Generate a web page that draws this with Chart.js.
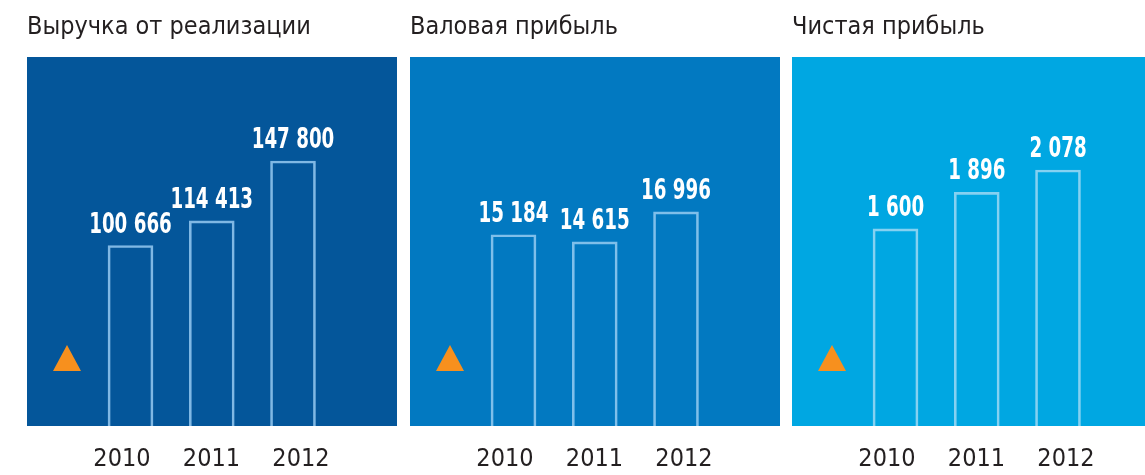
<!DOCTYPE html>
<html lang="ru">
<head>
<meta charset="utf-8">
<title>Финансовые показатели</title>
<script src="https://cdn.jsdelivr.net/npm/chart.js@4/dist/chart.umd.min.js"></script>
<style>
  html, body { margin: 0; padding: 0; background: #fff; overflow: hidden; }
  #wrap { position: relative; width: 1145px; height: 475px; overflow: hidden; }
  #wrap canvas { position: absolute; top: 0; }
</style>
</head>
<body>
<div id="wrap">
  <canvas id="c1" width="370" height="493" style="left:27px"></canvas>
  <canvas id="c2" width="370" height="493" style="left:410px"></canvas>
  <canvas id="c3" width="370" height="493" style="left:792px"></canvas>
</div>
<script>
const years = ['2010', '2011', '2012'];
const revenue = [100666, 114413, 147800];
const grossProfit = [15184, 14615, 16996];
const netProfit = [1600, 1896, 2078];
const titles = ['Выручка от реализации', 'Валовая прибыль', 'Чистая прибыль'];

const FONT = '"Liberation Sans Narrow", "DejaVu Sans Condensed", "Roboto", sans-serif';

// 100666 -> "100 666"
const fmt = (v) => String(v).replace(/\B(?=(\d{3})+(?!\d))/g, ' ');

// panel background + orange marker, values above bars
const panelPlugin = {
  id: 'panel',
  beforeDraw(chart, args, opts) {
    const { ctx, chartArea: a } = chart;
    ctx.save();
    ctx.fillStyle = opts.bg;
    ctx.fillRect(a.left, a.top, a.right - a.left, a.bottom - a.top);
    ctx.fillStyle = '#f7901e';
    ctx.beginPath();
    ctx.moveTo(a.left + 26, a.bottom - 55);
    ctx.lineTo(a.left + 54, a.bottom - 55);
    ctx.lineTo(a.left + 40, a.bottom - 81);
    ctx.closePath();
    ctx.fill();
    ctx.restore();
  },
  afterDatasetsDraw(chart) {
    const { ctx } = chart;
    const values = chart.data.datasets[0].data;
    ctx.save();
    ctx.fillStyle = '#ffffff';
    ctx.font = 'bold 29px ' + FONT;
    ctx.textAlign = 'center';
    ctx.textBaseline = 'alphabetic';
    chart.getDatasetMeta(0).data.forEach((bar, i) => {
      // squeeze the text, the original uses a very narrow bold face
      ctx.save();
      ctx.translate(bar.x, bar.y - 13);
      ctx.scale(0.7, 1);
      ctx.fillText(fmt(values[i].y), 0, 0);
      ctx.restore();
    });
    ctx.restore();
  }
};

function makeChart(id, title, values, bg, stroke, yMax) {
  return new Chart(document.getElementById(id), {
    type: 'bar',
    data: {
      datasets: [{
        data: values.map((v, i) => ({ x: i, y: v })),
        backgroundColor: 'rgba(0,0,0,0)',
        borderColor: stroke,
        borderWidth: 2,
        barThickness: 45
      }]
    },
    options: {
      responsive: false,
      animation: false,
      layout: { padding: { top: 0, bottom: 1, left: 0, right: 0 } },
      plugins: {
        legend: { display: false },
        tooltip: { enabled: false },
        title: {
          display: true,
          text: title,
          align: 'start',
          color: '#231f20',
          font: { family: FONT, size: 25, weight: 'normal' },
          padding: { top: 12, bottom: 15 }
        },
        panel: { bg: bg }
      },
      scales: {
        x: { type: 'linear', display: false, offset: false, min: -1.274, max: 3.28 },
        yr: {
          type: 'linear',
          position: 'bottom',
          offset: false,
          min: -1.061,
          max: 3.073,
          grid: { display: false, drawTicks: false, offset: false },
          border: { display: false },
          afterBuildTicks: (s) => { s.ticks = years.map((_, i) => ({ value: i })); },
          ticks: {
            padding: 18,
            color: '#231f20',
            font: { family: FONT, size: 25 },
            callback: (v) => years[v]
          }
        },
        y: { display: false, min: 0, max: yMax }
      }
    },
    plugins: [panelPlugin]
  });
}

makeChart('c1', titles[0], revenue, '#04569a', '#80b8e4', 205800);
makeChart('c2', titles[1], grossProfit, '#0279c1', '#7fbfea', 29300);
makeChart('c3', titles[2], netProfit, '#00a7e2', '#85d1f1', 2995);
</script>
</body>
</html>
